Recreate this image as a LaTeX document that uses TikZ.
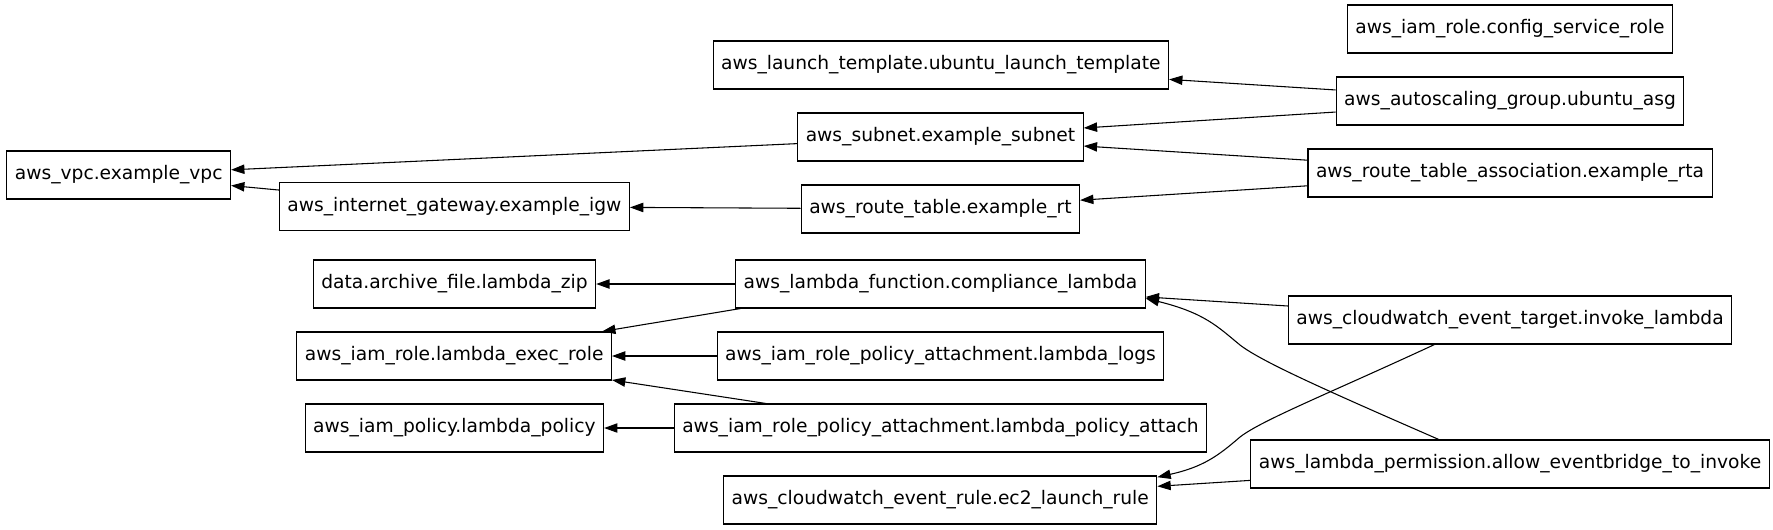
\documentclass[tikz,border=0pt]{standalone}
\usepackage{fontspec}
\setmainfont{DejaVu Sans}
\usetikzlibrary{arrows.meta}

\begin{document}
\begin{tikzpicture}[x=0.75pt, y=-0.75pt, font=\fontsize{14}{17}\selectfont,
    res/.style={draw, line width=0.8pt, minimum height=36pt, inner xsep=6pt, inner ysep=0pt},
    dep/.style={-{Triangle[length=10pt, width=7pt]}, line width=0.8pt}]
      \useasboundingbox (0,0) rectangle (1773,529);
      % network part
      \node[res] (vpc) at (118.7,175) {aws\_vpc.example\_vpc};
      \node[res] (igw) at (454.4,206.5) {aws\_internet\_gateway.example\_igw};
      \node[res] (lt) at (940.8,65) {aws\_launch\_template.ubuntu\_launch\_template};
      \node[res] (subnet) at (940.5,137) {aws\_subnet.example\_subnet};
      \node[res] (rt) at (940.4,209) {aws\_route\_table.example\_rt};
      \node[res] (cfgrole) at (1510,29) {aws\_iam\_role.config\_service\_role};
      \node[res] (asg) at (1510,101) {aws\_autoscaling\_group.ubuntu\_asg};
      \node[res] (rta) at (1510,173) {aws\_route\_table\_association.example\_rta};
      % lambda part
      \node[res] (zip) at (454.5,284) {data.archive\_file.lambda\_zip};
      \node[res] (execrole) at (454.2,356) {aws\_iam\_role.lambda\_exec\_role};
      \node[res] (policy) at (454.4,428) {aws\_iam\_policy.lambda\_policy};
      \node[res] (lambda) at (940.4,284) {aws\_lambda\_function.compliance\_lambda};
      \node[res] (logs) at (940.5,356) {aws\_iam\_role\_policy\_attachment.lambda\_logs};
      \node[res] (polatt) at (940.5,428) {aws\_iam\_role\_policy\_attachment.lambda\_policy\_attach};
      \node[res] (rule) at (940.2,500) {aws\_cloudwatch\_event\_rule.ec2\_launch\_rule};
      \node[res] (target) at (1510,320) {aws\_cloudwatch\_event\_target.invoke\_lambda};
      \node[res] (perm) at (1510,464) {aws\_lambda\_permission.allow\_eventbridge\_to\_invoke};
      \draw[dep] (asg) -- (lt); \draw[dep] (asg) -- (subnet);
      \draw[dep] (rta) -- (subnet); \draw[dep] (rta) -- (rt);
      \draw[dep] (subnet) -- (vpc); \draw[dep] (igw) -- (vpc); \draw[dep] (rt) -- (igw);
      \draw[dep] (lambda) -- (zip); \draw[dep] (lambda.187.6) -- (execrole);
      \draw[dep] (logs) -- (execrole); \draw[dep] (polatt.172.4) -- (execrole);
      \draw[dep] (polatt) -- (policy);
      \draw[dep] (target) -- (lambda); \draw[dep] (perm) -- (rule);
      \draw[dep] (perm.161.3) .. controls (1330,392) and (1262,362) .. (1240,345)
        .. controls (1218,327) and (1205,313) .. (lambda.-4.7);
      \draw[dep] (target.198.7) .. controls (1330,393) and (1262,420) .. (1240,437)
        .. controls (1218,456) and (1203,467) .. (rule.6);
    \end{tikzpicture}
\end{document}
